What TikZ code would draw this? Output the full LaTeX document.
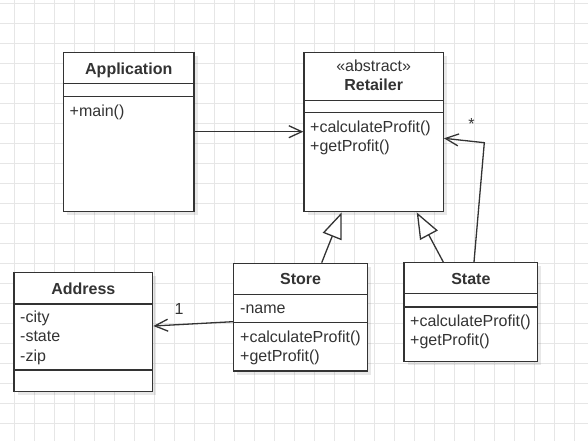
\documentclass[tikz,border=0pt]{standalone}
\usepackage{fontspec}
\setmainfont{Liberation Sans}
\usetikzlibrary{arrows.meta,shadows}
\definecolor{gridc}{HTML}{E6E6E6}
\definecolor{ink}{HTML}{333333}
\tikzset{
  gridline/.style={draw=gridc, line width=0.9pt},
  umlclass/.style={draw=ink, line width=1.3pt, fill=white, rectangle, inner sep=0pt,
    drop shadow={shadow xshift=3.5pt, shadow yshift=-3.5pt, fill=black, opacity=0.09}},
  divider/.style={draw=ink, line width=1.3pt},
  txt/.style={text=ink, font=\fontsize{16}{19.5}\selectfont, inner sep=0pt, yshift=-2.5pt},
  title/.style={txt, anchor=mid, font=\fontsize{16}{19.5}\selectfont\bfseries},
  stereo/.style={txt, anchor=mid},
  member/.style={txt, anchor=mid west},
  lbl/.style={txt, anchor=mid},
  assoc/.style={draw=ink, line width=1.3pt, -{Straight Barb[length=13pt,width=12pt,line width=1.3pt]}},
  inherit/.style={draw=ink, line width=1.3pt, -{Triangle[open,length=26pt,width=20pt,fill=white,line width=1.3pt]}},
}
\begin{document}
\begin{tikzpicture}[x=1pt,y=-1pt]
\useasboundingbox (0,0) rectangle (588,441);
\fill[white] (0,0) rectangle (588,441);
% grid
\foreach \gx in {14.5,34.5,...,575} \draw[gridline] (\gx,0) -- (\gx,441);
\foreach \gy in {3.3,23.3,...,440} \draw[gridline] (0,\gy) -- (588,\gy);

% Application
\node[umlclass, minimum width=130.5pt, minimum height=159pt] (app) at (128.75,132.2) {};
\draw[divider] (app.west |- 0,83.7) -- (app.east |- 0,83.7);
\draw[divider] (app.west |- 0,96.7) -- (app.east |- 0,96.7);
\node[title] (appT) at (128.75,69) {Application};
\node[member] (appM1) at (69.5,111) {+main()};

% Retailer
\node[umlclass, minimum width=139.3pt, minimum height=159pt] (ret) at (373.65,132.2) {};
\draw[divider] (ret.west |- 0,100.7) -- (ret.east |- 0,100.7);
\draw[divider] (ret.west |- 0,112.7) -- (ret.east |- 0,112.7);
\node[stereo] (retS) at (373.65,66) {«abstract»};
\node[title] (retT) at (373.65,85) {Retailer};
\node[member] (retM1) at (310,127) {+calculateProfit()};
\node[member] (retM2) at (310,146) {+getProfit()};

% Address
\node[umlclass, minimum width=138.7pt, minimum height=119pt] (addr) at (83.35,332.2) {};
\draw[divider] (addr.west |- 0,304) -- (addr.east |- 0,304);
\draw[divider] (addr.west |- 0,370) -- (addr.east |- 0,370);
\node[title] (addrT) at (83.35,289.5) {Address};
\node[member] (addrM1) at (20,317.5) {-city};
\node[member] (addrM2) at (20,336.5) {-state};
\node[member] (addrM3) at (20,356) {-zip};

% Store
\node[umlclass, minimum width=134.2pt, minimum height=107.7pt] (store) at (300.6,317.15) {};
\draw[divider] (store.west |- 0,294.3) -- (store.east |- 0,294.3);
\draw[divider] (store.west |- 0,322.3) -- (store.east |- 0,322.3);
\node[title] (storeT) at (300.6,279.5) {Store};
\node[member] (storeM0) at (240,308) {-name};
\node[member] (storeM1) at (240,337) {+calculateProfit()};
\node[member] (storeM2) at (240,356.5) {+getProfit()};

% State
\node[umlclass, minimum width=133.7pt, minimum height=99pt] (state) at (470.85,312.2) {};
\draw[divider] (state.west |- 0,293.7) -- (state.east |- 0,293.7);
\draw[divider] (state.west |- 0,307) -- (state.east |- 0,307);
\node[title] (stateT) at (470.85,279.5) {State};
\node[member] (stateM1) at (410,321) {+calculateProfit()};
\node[member] (stateM2) at (410,340) {+getProfit()};

% connectors
\coordinate (bend) at (484.3,142.7);
\draw[assoc] (app.east |- 0,131.7) -- (ret.west |- 0,131.7);
\draw[inherit] ([xshift=21.1pt]store.north) -- ([xshift=-31.95pt]ret.south);
\draw[inherit] ([xshift=-27.55pt]state.north) -- ([xshift=43.05pt]ret.south);
\draw[assoc] ([xshift=3.15pt]state.north) -- (bend) -- ([yshift=-6.1pt]ret.east);
\node[lbl] (star) at (471.5,124) {*};
\draw[assoc] ([yshift=-4.55pt]store.west) -- ([yshift=6.2pt]addr.east);
\node[lbl] (one) at (179,309.5) {1};
\end{tikzpicture}
\end{document}
